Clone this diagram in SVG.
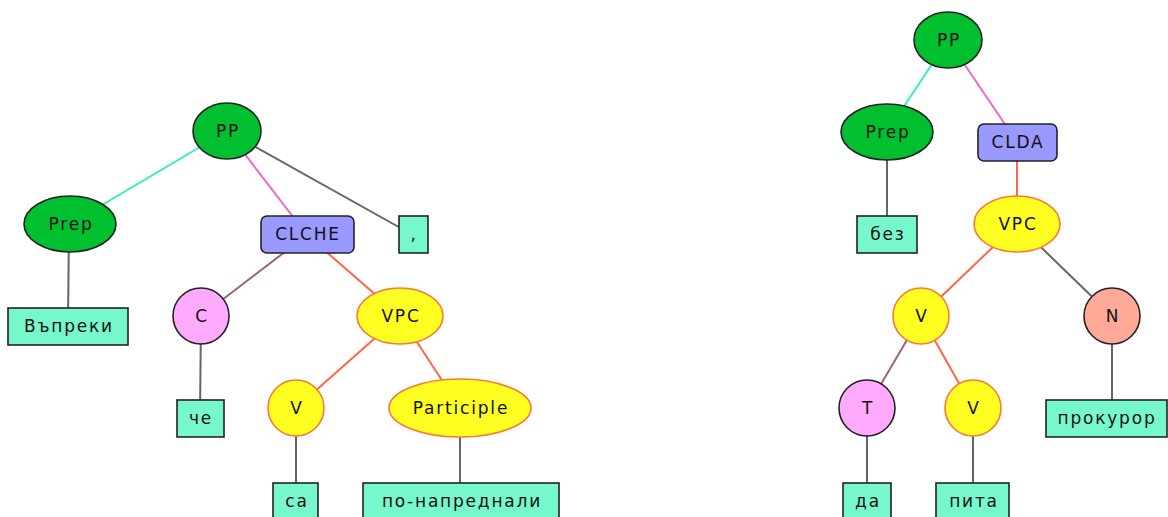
<svg xmlns="http://www.w3.org/2000/svg" width="1168" height="517" viewBox="0 0 1168 517">
  <style>
    .bg { fill: #ffffff; }
    .edge { stroke-width: 2; fill: none; }
    .e-gray { stroke: #666666; }
    .e-aqua { stroke: #33eebb; }
    .e-pink { stroke: #ee66cc; }
    .e-red { stroke: #ff6644; }
    .e-plum { stroke: #996677; }
    .n-green { fill: #00c030; stroke: #222222; stroke-width: 1.6; }
    .n-blue { fill: #9999ff; stroke: #222222; stroke-width: 1.6; }
    .n-pink { fill: #ffaaff; stroke: #222222; stroke-width: 1.6; }
    .n-yellow { fill: #ffff22; stroke: #ff7733; stroke-width: 1.6; }
    .n-salmon { fill: #ffaa99; stroke: #222222; stroke-width: 1.6; }
    .leaf { fill: #77f8cc; stroke: #222222; stroke-width: 1.6; }
    text { font-family: "DejaVu Sans", "Noto Sans", sans-serif; font-size: 17px; letter-spacing: 1.8px; fill: #111111; text-anchor: middle; dominant-baseline: central; }
  </style>
  <rect class="bg" x="0" y="0" width="1168" height="517"/>

  <g id="connectors">
    <!-- left tree -->
    <line class="edge e-aqua" x1="227" y1="131" x2="70" y2="224"/>
    <line class="edge e-pink" x1="227" y1="131" x2="307" y2="235"/>
    <line class="edge e-gray" x1="227" y1="131" x2="413" y2="235"/>
    <line class="edge e-gray" x1="69" y1="224" x2="68" y2="326"/>
    <line class="edge e-plum" x1="307" y1="235" x2="201" y2="316"/>
    <line class="edge e-red" x1="307" y1="235" x2="400" y2="316"/>
    <line class="edge e-gray" x1="201" y1="316" x2="200" y2="418"/>
    <line class="edge e-red" x1="400" y1="316" x2="296" y2="408"/>
    <line class="edge e-red" x1="400" y1="316" x2="460" y2="408"/>
    <line class="edge e-gray" x1="296" y1="408" x2="296" y2="500"/>
    <line class="edge e-gray" x1="460" y1="408" x2="460" y2="500"/>
    <!-- right tree -->
    <line class="edge e-aqua" x1="948" y1="40" x2="887" y2="132"/>
    <line class="edge e-pink" x1="948" y1="40" x2="1017" y2="142"/>
    <line class="edge e-gray" x1="887" y1="132" x2="887" y2="234"/>
    <line class="edge e-red" x1="1017" y1="142" x2="1017" y2="224"/>
    <line class="edge e-red" x1="1017" y1="224" x2="921" y2="316"/>
    <line class="edge e-gray" x1="1017" y1="224" x2="1112" y2="316"/>
    <line class="edge e-plum" x1="921" y1="316" x2="867" y2="408"/>
    <line class="edge e-red" x1="921" y1="316" x2="973" y2="408"/>
    <line class="edge e-gray" x1="1112" y1="316" x2="1112" y2="418"/>
    <line class="edge e-gray" x1="867" y1="408" x2="867" y2="500"/>
    <line class="edge e-gray" x1="973" y1="408" x2="973" y2="500"/>
  </g>

  <!-- left tree nodes -->
  <g id="l-pp"><ellipse class="n-green" cx="227" cy="131" rx="34" ry="28"/><text x="228" y="131">PP</text></g>
  <g id="l-prep"><ellipse class="n-green" cx="70" cy="224" rx="46" ry="28"/><text x="71" y="224">Prep</text></g>
  <g id="l-vupreki"><rect class="leaf" x="8" y="308" width="120" height="37"/><text x="69" y="326">Въпреки</text></g>
  <g id="l-clche"><rect class="n-blue" x="261" y="216" width="93" height="37" rx="6"/><text x="308" y="234">CLCHE</text></g>
  <g id="l-comma"><rect class="leaf" x="399" y="216" width="29" height="37"/><text x="414" y="234">,</text></g>
  <g id="l-c"><circle class="n-pink" cx="201" cy="316" r="28"/><text x="202" y="316">C</text></g>
  <g id="l-che"><rect class="leaf" x="177" y="400" width="47" height="37"/><text x="201" y="418">че</text></g>
  <g id="l-vpc"><ellipse class="n-yellow" cx="400" cy="316" rx="43" ry="28"/><text x="401" y="316">VPC</text></g>
  <g id="l-v"><circle class="n-yellow" cx="296" cy="408" r="28"/><text x="297" y="408">V</text></g>
  <g id="l-participle"><ellipse class="n-yellow" cx="460" cy="408" rx="71" ry="29"/><text x="461" y="408">Participle</text></g>
  <g id="l-sa"><rect class="leaf" x="273" y="483" width="45" height="37"/><text x="297" y="501">са</text></g>
  <g id="l-ponapr"><rect class="leaf" x="363" y="483" width="196" height="37"/><text x="462" y="501">по-напреднали</text></g>

  <!-- right tree nodes -->
  <g id="r-pp"><ellipse class="n-green" cx="948" cy="40" rx="34" ry="28"/><text x="949" y="40">PP</text></g>
  <g id="r-prep"><ellipse class="n-green" cx="887" cy="132" rx="46" ry="28"/><text x="888" y="132">Prep</text></g>
  <g id="r-bez"><rect class="leaf" x="857" y="216" width="60" height="37"/><text x="888" y="234">без</text></g>
  <g id="r-clda"><rect class="n-blue" x="978" y="124" width="79" height="37" rx="6"/><text x="1018" y="142">CLDA</text></g>
  <g id="r-vpc"><ellipse class="n-yellow" cx="1017" cy="224" rx="43" ry="28"/><text x="1018" y="224">VPC</text></g>
  <g id="r-v"><circle class="n-yellow" cx="921" cy="316" r="28"/><text x="922" y="316">V</text></g>
  <g id="r-n"><circle class="n-salmon" cx="1112" cy="316" r="28"/><text x="1113" y="316">N</text></g>
  <g id="r-t"><circle class="n-pink" cx="867" cy="408" r="28"/><text x="868" y="408">T</text></g>
  <g id="r-v2"><circle class="n-yellow" cx="973" cy="408" r="28"/><text x="974" y="408">V</text></g>
  <g id="r-prokuror"><rect class="leaf" x="1046" y="400" width="121" height="37"/><text x="1107" y="418">прокурор</text></g>
  <g id="r-da"><rect class="leaf" x="843" y="483" width="48" height="37"/><text x="868" y="501">да</text></g>
  <g id="r-pita"><rect class="leaf" x="936" y="483" width="73" height="37"/><text x="974" y="501">пита</text></g>
</svg>
